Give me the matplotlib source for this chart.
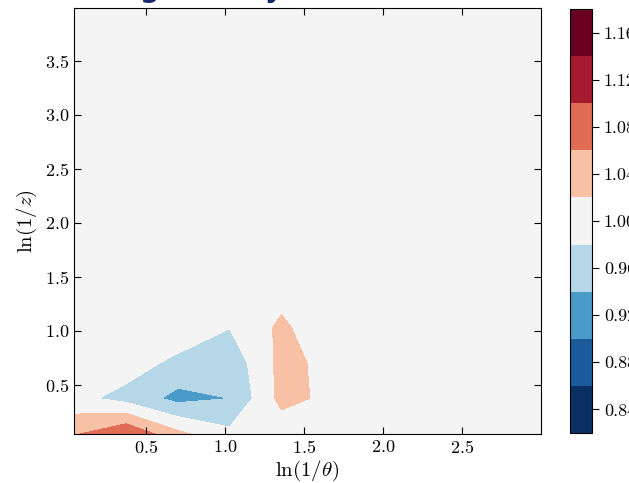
import matplotlib
matplotlib.use("Agg")
import matplotlib.pyplot as plt
from matplotlib.colors import ListedColormap
import numpy as np

plt.rcParams['font.family'] = 'serif'
plt.rcParams['font.serif'] = ['cmr10']
plt.rcParams['mathtext.fontset'] = 'cm'
plt.rcParams['axes.formatter.use_mathtext'] = True

# grid of ln(1/theta) and ln(1/z)
ln_theta = np.linspace(0.044, 3.0, 10)
ln_z = np.linspace(0.045, 3.99, 13)

# ratio values, rows = ln(1/z), cols = ln(1/theta)
row0 = [1.055, 1.098, 1.030, 0.990, 0.994, 1.000, 1.0, 1.0, 1.0, 1.0]
row1 = [0.9925, 0.966, 0.928, 0.9401, 1.032, 1.010, 1.0, 1.0, 1.0, 1.0]
row2 = [1.000, 1.000, 0.969, 0.953, 1.032, 1.0075, 1.0, 1.0, 1.0, 1.0]
row3 = [1.000, 1.000, 1.010, 0.981, 1.028, 0.986, 1.0, 1.0, 1.0, 1.0]
row4 = [1.000, 1.000, 1.000, 1.000, 1.006, 1.000, 1.0, 1.0, 1.0, 1.0]
rest = [1.0] * 10

ratio = np.array([row0, row1, row2, row3, row4] + [rest] * 8)

levels = np.arange(0.82, 1.1801, 0.04)
cticks = np.arange(0.84, 1.161, 0.04)

# band colours as they look in the reference (RdBu_r like)
band_colors = ['#0a2f61', '#1c5a9c', '#4b9bc8', '#b5d7e8', '#f4f4f4',
               '#f8c1a6', '#e06c55', '#a51a2e', '#6a0021']

fig = plt.figure(figsize=(6.29, 4.83), dpi=100)
ax = fig.add_axes([74/629, 49/483, 467/629, 426/483])
cax = fig.add_axes([570/629, 50/483, 22/629, 424/483])

cs = ax.contourf(ln_theta, ln_z, ratio, levels=levels,
                 cmap=ListedColormap(band_colors))
ax.set_xlim(0.044, 3.0)
ax.set_ylim(0.045, 3.99)
ax.set_xticks([0.5, 1.0, 1.5, 2.0, 2.5])
ax.set_yticks([0.5, 1.0, 1.5, 2.0, 2.5, 3.0, 3.5])
ax.tick_params(direction='in', top=True, right=True, length=5, labelsize=13)
ax.set_xlabel(r'$\ln(1/\theta)$', fontsize=15, labelpad=2)
ax.set_ylabel(r'$\ln(1/z)$', fontsize=15, labelpad=4)

cb = fig.colorbar(cs, cax=cax, ticks=cticks)
cb.ax.tick_params(labelsize=13, length=5)
cb.ax.set_yticklabels(['%.2f' % t for t in cticks])

# clipped title fragments at the top edge
fig.text(150/629, 1 + 3/483, 'g', fontsize=20, color='#14286e',
         ha='center', va='baseline', family='DejaVu Sans', weight='bold')
fig.text(274/629, 1 + 3/483, 'y', fontsize=20, color='#14286e',
         ha='center', va='baseline', family='DejaVu Sans', weight='bold')

plt.savefig('out.png', dpi=100)
